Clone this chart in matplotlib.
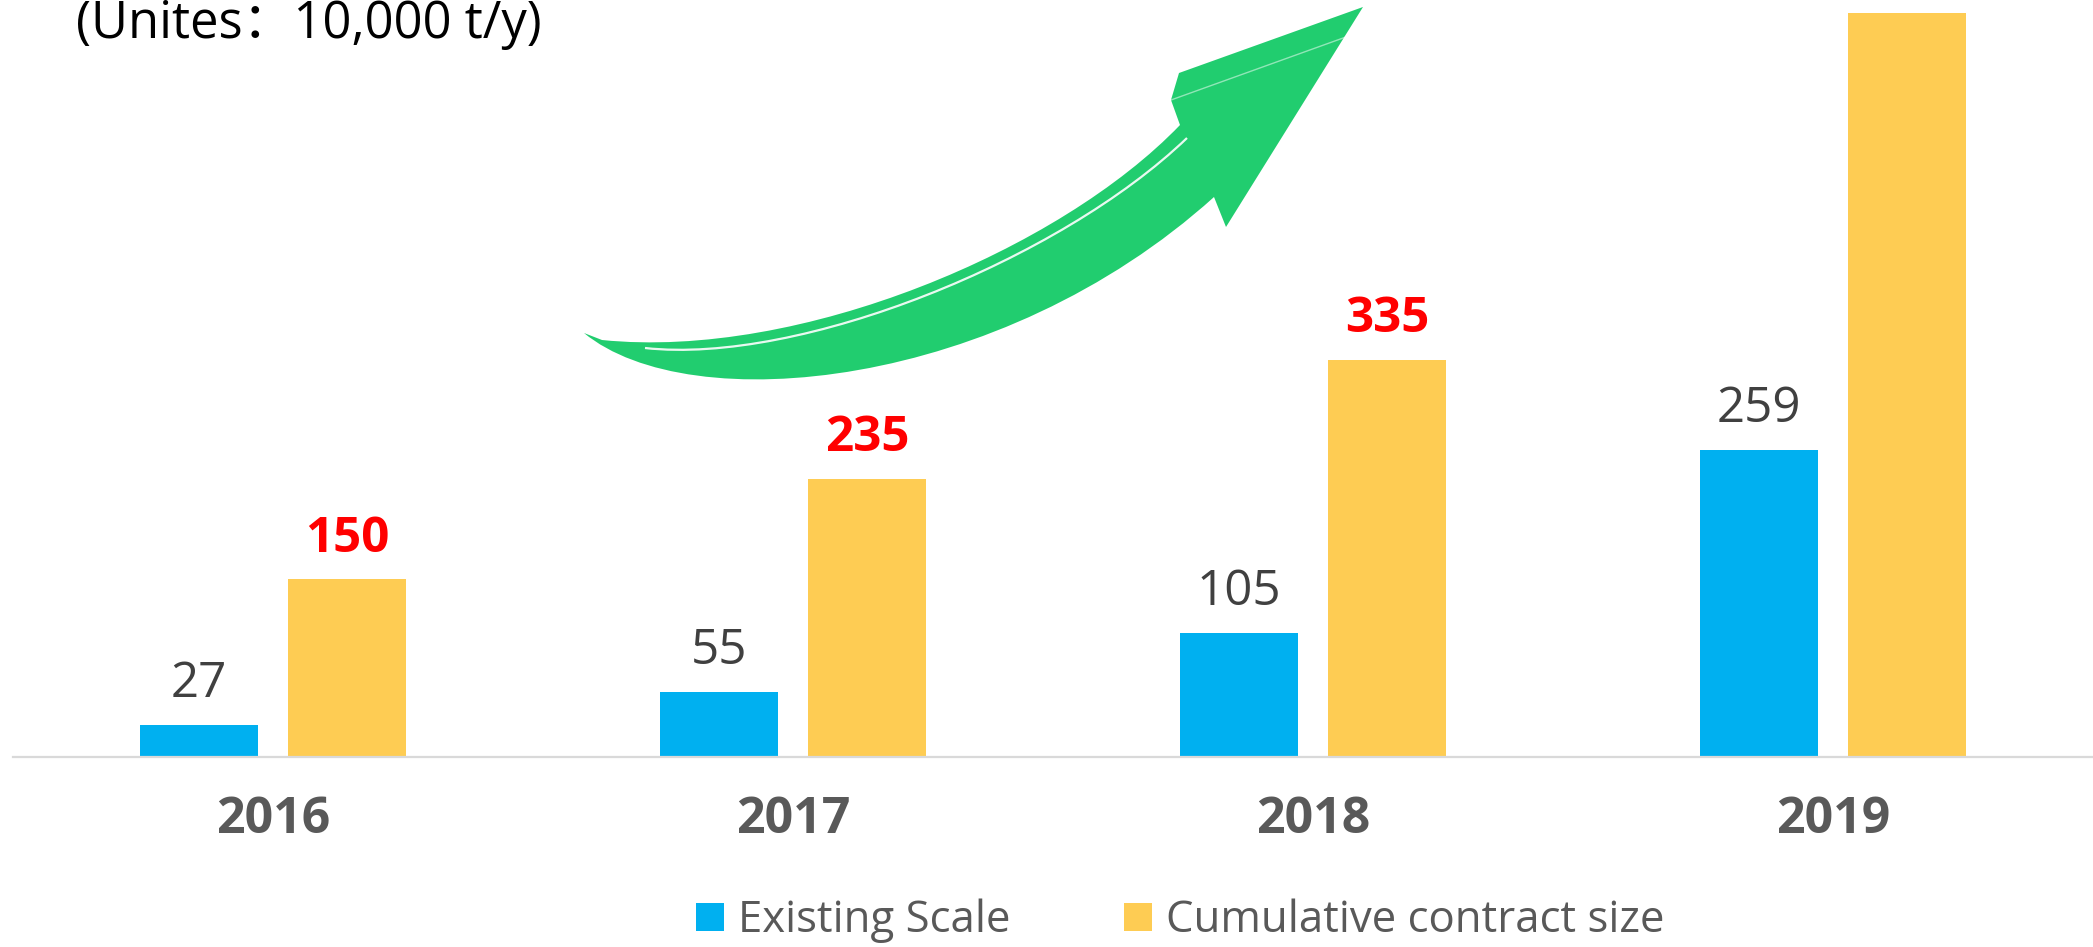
import matplotlib
matplotlib.use("Agg")
import matplotlib.pyplot as plt
import numpy as np
from matplotlib.path import Path
from matplotlib.patches import PathPatch
from matplotlib import font_manager

years = ["2016", "2017", "2018", "2019"]
existing_scale = [27, 55, 105, 259]
cumulative_contract = [150, 235, 335, 628]
series_names = ["Existing Scale", "Cumulative contract size"]
title_text = "(Unites\uff1a10,000 t/y)"

BLUE = "#00B0F0"
YELLOW = "#FECC53"
GREEN = "#21CD6F"
GREY_TXT = "#595959"
DARK_TXT = "#404040"

avail = {f.name for f in font_manager.fontManager.ttflist}
MAIN = "Open Sans" if "Open Sans" in avail else "DejaVu Sans"

W, H = 2093, 947
fig = plt.figure(figsize=(W / 100, H / 100), dpi=100)

ax = fig.add_axes([13 / W, (H - 757) / H, 2080 / W, 757 / H])
x = np.arange(len(years))
bw = 0.227
off = 0.143
b1 = ax.bar(x - off, existing_scale, width=bw, color=BLUE, label=series_names[0], zorder=2)
b2 = ax.bar(x + off, cumulative_contract, width=bw, color=YELLOW, label=series_names[1], zorder=2)
ax.set_xlim(-0.5, 3.5)
ax.set_ylim(0, 639)

for s in ["top", "left", "right"]:
    ax.spines[s].set_visible(False)
ax.spines["bottom"].set_color("#D9D9D9")
ax.spines["bottom"].set_linewidth(1.6)
ax.set_yticks([])
ax.set_xticks(x)
ax.set_xticklabels(years, fontsize=36, fontweight="bold", color=GREY_TXT, family=MAIN)
ax.tick_params(axis="x", length=0, pad=27)

for xi, v in zip(x, existing_scale):
    ax.annotate(str(v), (xi - off, v), xytext=(0, 20), textcoords="offset points",
                ha="center", va="baseline", fontsize=35.5, color=DARK_TXT, family=MAIN)
for xi, v in zip(x[:3], cumulative_contract[:3]):
    ax.annotate(str(v), (xi + off, v), xytext=(0, 20), textcoords="offset points",
                ha="center", va="baseline", fontsize=35.5, fontweight="bold", color="#FF0000", family=MAIN)

leg = fig.legend(handles=[b1, b2], labels=series_names, loc="center",
                 bbox_to_anchor=(1180 / W, 1 - 921 / H), ncol=2, frameon=False,
                 prop={"family": MAIN, "size": 31.5},
                 handlelength=0.64, handleheight=0.62, handletextpad=0.32, columnspacing=2.6)
for t in leg.get_texts():
    t.set_color(GREY_TXT)

fig.text(76 / W, 1 - 38 / H, title_text, ha="left", va="baseline",
         fontsize=36.5, color="black",
         family=[MAIN, "Noto Sans CJK SC", "DejaVu Sans"])

# decorative growth arrow in figure pixel coordinates
ov = fig.add_axes([0, 0, 1, 1], zorder=5)
ov.set_xlim(0, W)
ov.set_ylim(H, 0)
ov.axis("off")
verts = [(584, 333),
         (690, 420), (1000, 390), (1214, 197),
         (1226, 227), (1363, 7), (1179, 73), (1171, 100), (1180, 125),
         (1060, 250), (800, 360), (602, 340),
         (584, 333)]
codes = [Path.MOVETO,
         Path.CURVE4, Path.CURVE4, Path.CURVE4,
         Path.LINETO, Path.LINETO, Path.LINETO, Path.LINETO, Path.LINETO,
         Path.CURVE4, Path.CURVE4, Path.CURVE4,
         Path.CLOSEPOLY]
ov.add_patch(PathPatch(Path(verts, codes), facecolor=GREEN, edgecolor="none"))
hl = Path([(645, 348), (800, 365), (1060, 260), (1187, 138)],
          [Path.MOVETO, Path.CURVE4, Path.CURVE4, Path.CURVE4])
ov.add_patch(PathPatch(hl, facecolor="none", edgecolor="white", linewidth=1.6, alpha=0.9))
ov.plot([1171, 1357], [100, 33], color="white", linewidth=1.0, alpha=0.5)

fig.savefig("out.png", dpi=100, facecolor="white")
